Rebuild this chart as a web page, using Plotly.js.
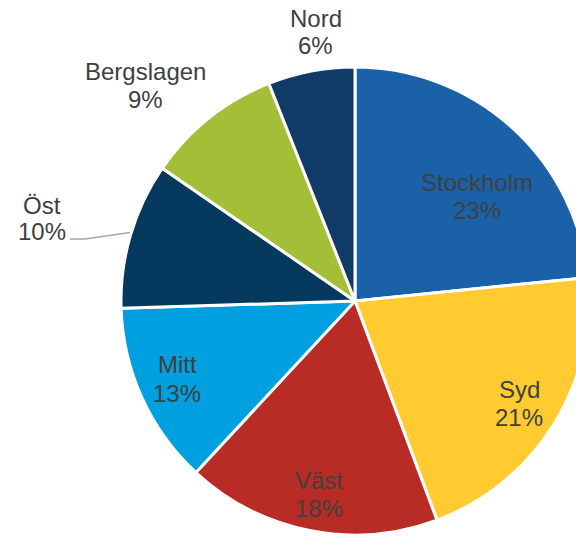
<!DOCTYPE html>
<html>
<head>
<meta charset="utf-8">
<script src="https://cdn.plot.ly/plotly-3.0.1.min.js"></script>
<style>
html,body{margin:0;padding:0;overflow:hidden;background:#fff;width:576px;height:536px;}
#chart{width:600px;height:536px;}
</style>
</head>
<body>
<div id="chart"></div>
<script>
// Data
const regions = ["Stockholm", "Syd", "Väst", "Mitt", "Öst", "Bergslagen", "Nord"];
const shares = [23.4, 20.9, 17.6, 12.6, 10.1, 9.4, 6.0];
const percentLabels = ["23%", "21%", "18%", "13%", "10%", "9%", "6%"];
const colors = ["#1A61A8", "#FFCB31", "#B92B25", "#009FDF", "#053A5E", "#A3BF37", "#113A66"];

// Layout helpers (pixel positions of label centres: [x, nameY, percentY])
const W = 600, H = 536;
const labelPos = [
  [477, 182, 210],
  [519, 389, 417],
  [319, 480, 508],
  [177, 364, 393],
  [42, 206, 232],
  [145, 71, 100],
  [316, 18, 46]
];
const FONT = {family: "Liberation Sans, Arial, sans-serif", size: 24, color: "#404040"};

const trace = {
  type: "pie",
  labels: regions,
  values: shares,
  sort: false,
  direction: "clockwise",
  rotation: 0,
  textinfo: "none",
  marker: {colors: colors, line: {color: "#ffffff", width: 3}},
  domain: {x: [121 / W, 589 / W], y: [1 / H, 469 / H]},
  hoverinfo: "none",
  showlegend: false
};

const annotations = [];
regions.forEach((name, i) => {
  const p = labelPos[i];
  annotations.push({
    xref: "paper", yref: "paper", x: p[0] / W, y: 1 - p[1] / H,
    xanchor: "center", yanchor: "middle", showarrow: false,
    text: name, font: FONT
  });
  annotations.push({
    xref: "paper", yref: "paper", x: p[0] / W, y: 1 - p[2] / H,
    xanchor: "center", yanchor: "middle", showarrow: false,
    text: percentLabels[i], font: FONT
  });
});

const px = (x) => x / W, py = (y) => 1 - y / H;
const shapes = [{
  type: "path", xref: "paper", yref: "paper",
  path: `M ${px(70)} ${py(239)} L ${px(85)} ${py(239)} L ${px(130)} ${py(232.5)}`,
  line: {color: "#A6A6A6", width: 1.5}
}];

Plotly.newPlot("chart", [trace], {
  width: W,
  height: H,
  margin: {l: 0, r: 0, t: 0, b: 0},
  paper_bgcolor: "#ffffff",
  showlegend: false,
  annotations: annotations,
  shapes: shapes
}, {displayModeBar: false, staticPlot: true});
</script>
</body>
</html>
